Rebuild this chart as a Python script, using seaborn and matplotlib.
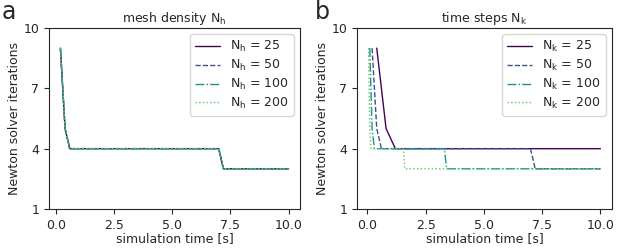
import matplotlib
matplotlib.use("Agg")
import matplotlib.pyplot as plt
import seaborn as sns

# panel a: mesh density (same time grid for all)
mesh_labels = ["25", "50", "100", "200"]
mesh_t = [0.2, 0.4, 0.6, 7.0, 7.2, 10.0]
mesh_it = [9, 5, 4, 4, 3, 3]

# panel b: time steps, breakpoints of each curve
steps_labels = ["25", "50", "100", "200"]
t25 = [0.4, 0.8, 1.2, 10.0]
it25 = [9, 5, 4, 4]
t50 = [0.2, 0.4, 0.6, 7.0, 7.2, 10.0]
it50 = [9, 5, 4, 4, 3, 3]
t100 = [0.1, 0.2, 0.3, 3.3, 3.4, 10.0]
it100 = [9, 5, 4, 4, 3, 3]
t200 = [0.05, 0.1, 0.15, 1.55, 1.6, 10.0]
it200 = [9, 5, 4, 4, 3, 3]

sns.set_style("ticks")
plt.rcParams["font.family"] = ["DejaVu Sans"]
plt.rcParams["font.size"] = 9

cmap = sns.color_palette("viridis", as_cmap=True)
colors = [cmap(v) for v in [0.0, 0.25, 0.5, 0.75]]
styles = ["-", "--", "-.", ":"]

fig, (ax1, ax2) = plt.subplots(1, 2, figsize=(6.23, 2.52), dpi=100)

for i, lab in enumerate(mesh_labels):
    sns.lineplot(x=mesh_t, y=mesh_it, ax=ax1, color=colors[i], linestyle=styles[i],
                 linewidth=1, label=r"N$_\mathrm{h}$ = " + lab)

series_b = [(t25, it25), (t50, it50), (t100, it100), (t200, it200)]
for i, lab in enumerate(steps_labels):
    t, it = series_b[i]
    sns.lineplot(x=t, y=it, ax=ax2, color=colors[i], linestyle=styles[i],
                 linewidth=1, label=r"N$_\mathrm{k}$ = " + lab)

ax1.set_title(r"mesh density N$_\mathrm{h}$", fontsize=9, pad=4)
ax2.set_title(r"time steps N$_\mathrm{k}$", fontsize=9, pad=4)
for ax in (ax1, ax2):
    ax.set_ylim(1, 10)
    ax.set_yticks([1, 4, 7, 10])
    ax.set_xticks([0, 2.5, 5, 7.5, 10])
    ax.set_xlabel("simulation time [s]", labelpad=0)
    ax.set_ylabel("Newton solver iterations", labelpad=2)
    ax.legend(loc="upper right", fontsize=9, labelspacing=0.3)

ax1.set_position([49 / 623, 1 - 209 / 252, 251 / 623, 181 / 252])
ax2.set_position([357 / 623, 1 - 209 / 252, 255 / 623, 181 / 252])

fig.text(0.003, 1.0, "a", fontsize=17, va="top")
fig.text(0.505, 1.0, "b", fontsize=17, va="top")

fig.savefig("out.png", dpi=100)
